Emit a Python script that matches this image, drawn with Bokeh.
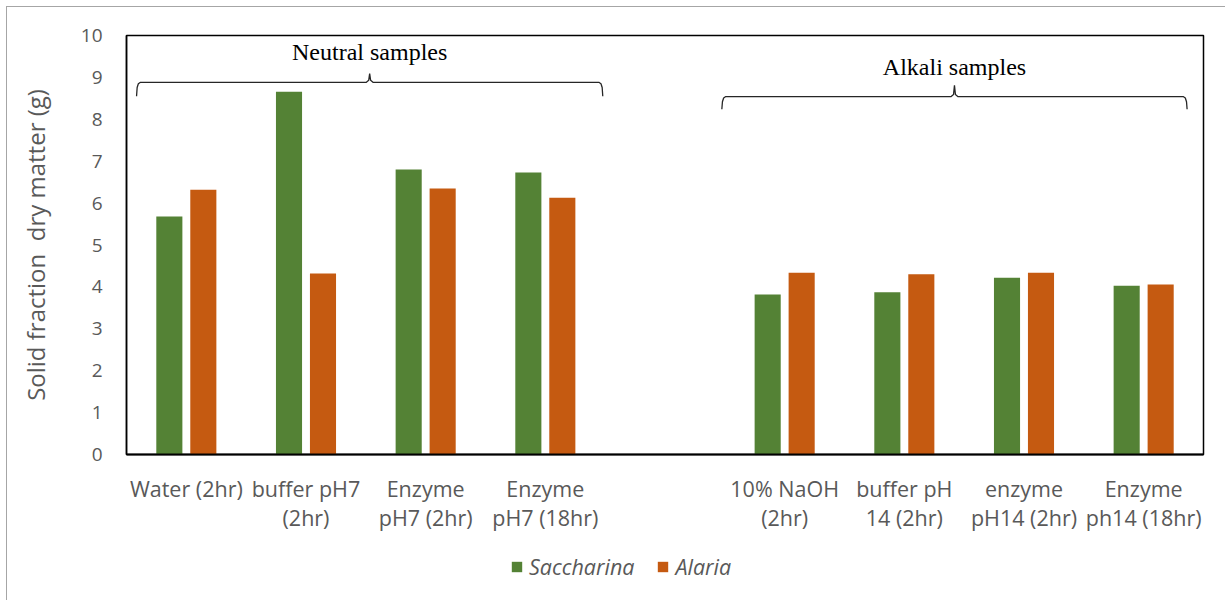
from bokeh.plotting import figure
from bokeh.layouts import column
from bokeh.models import ColumnDataSource, FixedTicker, Legend, LegendItem
from bokeh.core.properties import value
from bokeh.embed import file_html
from bokeh.resources import INLINE

categories = ["Water (2hr)", "buffer pH7\n(2hr)", "Enzyme\npH7 (2hr)", "Enzyme\npH7 (18hr)",
              "10% NaOH\n(2hr)", "buffer pH\n14 (2hr)", "enzyme\npH14 (2hr)", "Enzyme\nph14 (18hr)"]
saccharina = [5.68, 8.66, 6.80, 6.73, 3.82, 3.87, 4.22, 4.03]
alaria = [6.32, 4.32, 6.35, 6.13, 4.34, 4.30, 4.34, 4.06]
series_names = ["Saccharina", "Alaria"]
group_names = ["Neutral samples", "Alkali samples"]
group_members = [[0, 1, 2, 3], [4, 5, 6, 7]]

GREEN = "#548235"
ORANGE = "#C55A11"
GRAY = "#595959"
FONT = "Open Sans"

# slot positions: a blank slot separates the two groups
slots = [i if i < 4 else i + 1 for i in range(len(categories))]
centers = [s + 0.5 for s in slots]
off = 0.142
bw = 0.218

src = ColumnDataSource(dict(
    xs=[c - off for c in centers], xa=[c + off for c in centers],
    s=saccharina, a=alaria))

p = figure(width=1218, height=532, x_range=(0, 9), y_range=(0, 10),
           output_backend="svg", toolbar_location=None,
           min_border_left=119, min_border_right=22, min_border_top=28, min_border_bottom=85)

p.vbar(x="xs", top="s", width=bw, source=src, fill_color=GREEN, line_color=None)
p.vbar(x="xa", top="a", width=bw, source=src, fill_color=ORANGE, line_color=None)

p.grid.visible = False
p.outline_line_color = "black"
p.outline_line_width = 1.5
p.background_fill_color = "white"
p.border_fill_color = "white"

# axes
p.xaxis.ticker = FixedTicker(ticks=centers)
p.xaxis.major_label_overrides = {c: lab for c, lab in zip(centers, categories)}
p.xaxis.major_tick_line_color = None
p.xaxis.minor_tick_line_color = None
p.xaxis.axis_line_color = "black"
p.xaxis.axis_line_width = 2
p.xaxis.major_label_text_font = FONT
p.xaxis.major_label_text_font_size = "21.5px"
p.xaxis.major_label_text_color = GRAY
p.xaxis.major_label_text_line_height = 1.0
p.xaxis.major_label_standoff = 13

p.yaxis.ticker = FixedTicker(ticks=list(range(0, 11)))
p.yaxis.major_tick_line_color = None
p.yaxis.minor_tick_line_color = None
p.yaxis.axis_line_color = "black"
p.yaxis.axis_line_width = 1.5
p.yaxis.major_label_text_font = FONT
p.yaxis.major_label_text_font_size = "19px"
p.yaxis.major_label_text_color = GRAY
p.yaxis.major_label_standoff = 18
p.yaxis.axis_label = "Solid fraction\u00a0 dry matter (g)"
p.yaxis.axis_label_text_font = FONT
p.yaxis.axis_label_text_font_size = "24px"
p.yaxis.axis_label_text_font_style = "normal"
p.yaxis.axis_label_text_color = GRAY
p.yaxis.axis_label_standoff = 26

# group braces (end offsets within the outer slots)
start_off = [0.084, -0.025]
end_off = [0.98, 0.863]
brace_y = [8.88, 8.54]
brace_drop = [0.33, 0.30]
brace_tip = [0.21, 0.27]
text_y = [9.6, 9.25]
for g, (name, members) in enumerate(zip(group_names, group_members)):
    x0 = slots[members[0]] + start_off[g]
    x1 = slots[members[-1]] + end_off[g]
    xc = (x0 + x1) / 2
    y = brace_y[g]
    d = brace_drop[g]
    t = brace_tip[g]
    e = 0.03
    bx = [x0, x0 + 0.005, x0 + 0.015, x0 + e, xc - e, xc - 0.008, xc, xc + 0.008, xc + e,
          x1 - e, x1 - 0.015, x1 - 0.005, x1]
    by = [y - d, y - 0.12, y - 0.03, y, y, y + 0.05, y + t, y + 0.05, y,
          y, y - 0.03, y - 0.12, y - d]
    p.line(bx, by, line_color="#262626", line_width=1.3)
    p.text([xc], [text_y[g]], text=[name], text_font=value("Liberation Serif"),
           text_font_size="24px", text_color="black", text_align="center",
           text_baseline="middle")

# legend strip below the chart
pl = figure(width=1218, height=61, x_axis_type=None, y_axis_type=None,
            x_range=(0, 1), y_range=(0, 1),
            output_backend="svg", toolbar_location=None,
            min_border_left=0, min_border_right=0, min_border_top=0, min_border_bottom=0)
pl.outline_line_color = None
pl.grid.visible = False
pl.background_fill_color = "white"
lr1 = pl.vbar(x=[0.5], top=[-5], bottom=[-6], width=0.1, fill_color=GREEN, line_color=None)
lr2 = pl.vbar(x=[0.5], top=[-5], bottom=[-6], width=0.1, fill_color=ORANGE, line_color=None)
legend = Legend(items=[LegendItem(label=series_names[0], renderers=[lr1]),
                       LegendItem(label=series_names[1], renderers=[lr2])],
                orientation="horizontal", location=(384, 19),
                label_text_font=FONT, label_text_font_size="21.5px",
                label_text_font_style="italic", label_text_color=GRAY,
                glyph_width=13, glyph_height=13, label_standoff=6, spacing=22,
                padding=0, margin=0, border_line_color=None, background_fill_alpha=0)
pl.add_layout(legend)

layout = column(p, pl, spacing=0)
layout.styles = {"border-left": "1px solid #A6A6A6", "border-top": "1px solid #A6A6A6",
                 "margin-left": "6px", "margin-top": "6px"}
open("out.html", "w").write(file_html(layout, INLINE))
